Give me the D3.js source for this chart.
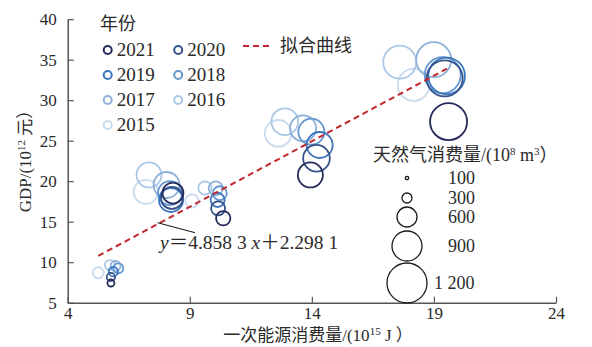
<!DOCTYPE html>
<html>
<head>
<meta charset="utf-8">
<script src="https://cdn.jsdelivr.net/npm/d3@7/dist/d3.min.js"></script>
<style>
  html, body { margin: 0; padding: 0; background: #fff; }
  svg { display: block; }
  text { font-family: "Liberation Serif", "Noto Sans CJK SC", serif; fill: #2a2a2a; }
</style>
</head>
<body>
<svg id="chart" width="592" height="347"></svg>
<script>
// Years, drawn from lightest (2015) to darkest (2021)
const years = ['2015', '2016', '2017', '2018', '2019', '2020', '2021'];
const yearColors = ['#c8dbef', '#abc7e6', '#8eb1da', '#6497d0', '#3d76bd', '#35538b', '#272b5b'];

// One row per year, one column per region (five regions)
const energy = [
  [5.25, 7.20, 9.09, 12.62, 18.17],
  [5.73, 7.33, 9.62, 12.89, 17.60],
  [5.96, 8.05, 10.06, 13.64, 18.99],
  [6.07, 8.19, 10.23, 13.98, 19.36],
  [5.87, 8.23, 10.14, 14.32, 19.52],
  [5.77, 8.27, 10.16, 14.19, 19.44],
  [5.77, 8.31, 10.37, 13.94, 19.60]
];
const gdp = [
  [8.70, 18.67, 17.56, 25.91, 31.90],
  [9.65, 20.77, 19.16, 27.35, 34.70],
  [9.53, 19.53, 19.12, 26.53, 35.00],
  [9.25, 18.54, 18.51, 26.11, 33.10],
  [8.83, 17.68, 17.68, 24.47, 33.00],
  [8.17, 17.93, 16.65, 22.83, 32.70],
  [7.43, 18.54, 15.42, 20.77, 27.35]
];
const gas = [
  [330, 720, 400, 800, 960],
  [300, 750, 400, 800, 990],
  [300, 780, 420, 780, 1050],
  [300, 720, 420, 780, 1080],
  [280, 720, 420, 780, 1100],
  [250, 660, 420, 800, 1080],
  [210, 630, 430, 750, 1110]
];

// Fitted line end points
const fitX = [5.25, 19.64];
const fitY = [10.77, 34.06];
const fitLabel = ['y', '＝4.858 3 ', 'x', '＋2.298 1'];

// Axis ticks
const xTicks = [4, 9, 14, 19, 24];
const yTicks = [5, 10, 15, 20, 25, 30, 35, 40];

// Size legend values and labels
const sizeValues = [100, 300, 600, 900, 1200];
const sizeLabels = ['100', '300', '600', '900', '1 200'];

// Legend layout order
const legendYears = ['2021', '2020', '2019', '2018', '2017', '2016', '2015'];

const svg = d3.select('#chart');
const x = d3.scaleLinear().domain([4, 24]).range([67.7, 556]);
const y = d3.scaleLinear().domain([5, 40]).range([302.7, 19.2]);
const r = d3.scaleLinear().domain([0, 1200]).range([0, 20]);
const color = d3.scaleOrdinal().domain(years).range(yearColors);

// Axes
const axisColor = '#555';
const gx = svg.append('g').attr('transform', `translate(0,${y(5)})`)
  .call(d3.axisBottom(x).tickValues(xTicks).tickSizeInner(-6).tickSizeOuter(0).tickPadding(4));
const gy = svg.append('g').attr('transform', `translate(${x(4)},0)`)
  .call(d3.axisLeft(y).tickValues(yTicks).tickSizeInner(-6).tickSizeOuter(0).tickPadding(11));
[gx, gy].forEach(g => {
  g.select('.domain').attr('stroke', axisColor).attr('stroke-width', 1.5);
  g.selectAll('.tick line').attr('stroke', axisColor).attr('stroke-width', 1.2);
  g.selectAll('.tick text').attr('font-size', 17).attr('fill', '#2a2a2a')
    .attr('font-family', '"Liberation Serif", serif');
});

// Axis titles
const xt = svg.append('text').attr('x', 318).attr('y', 341).attr('text-anchor', 'middle').attr('font-size', 17);
xt.append('tspan').text('一次能源消费量/(10');
xt.append('tspan').attr('font-size', 11).attr('dy', -6).text('15');
xt.append('tspan').attr('dy', 6).text(' J ）');

const yt = svg.append('text').attr('transform', 'translate(31,157) rotate(-90)')
  .attr('text-anchor', 'middle').attr('font-size', 17);
yt.append('tspan').text('GDP/(10');
yt.append('tspan').attr('font-size', 11).attr('dy', -6).text('12');
yt.append('tspan').attr('dy', 6).text(' 元）');

// Bubbles
const points = [];
years.forEach((yr, i) => {
  energy[i].forEach((e, j) => {
    points.push({ year: yr, e: e, g: gdp[i][j], s: gas[i][j] });
  });
});
svg.append('g').selectAll('circle').data(points).join('circle')
  .attr('cx', d => x(d.e))
  .attr('cy', d => y(d.g))
  .attr('r', d => r(d.s))
  .attr('fill', 'none')
  .attr('stroke', d => color(d.year))
  .attr('stroke-width', 1.8);

// Fitted line
svg.append('line')
  .attr('x1', x(fitX[0])).attr('y1', y(fitY[0]))
  .attr('x2', x(fitX[1])).attr('y2', y(fitY[1]))
  .attr('stroke', '#c1272d').attr('stroke-width', 2).attr('stroke-dasharray', '6,4');

// Equation with leader line
svg.append('line').attr('x1', 157.5).attr('y1', 222.7).attr('x2', 195).attr('y2', 232.7)
  .attr('stroke', '#111').attr('stroke-width', 1);
const eq = svg.append('text').attr('x', 160).attr('y', 249).attr('font-size', 19.5);
fitLabel.forEach((t, i) => {
  eq.append('tspan').attr('font-style', i % 2 === 0 ? 'italic' : 'normal').text(t);
});

// Year legend
svg.append('text').attr('x', 100).attr('y', 30).attr('font-size', 18).text('年份');
const leg = svg.append('g').selectAll('g').data(legendYears).join('g')
  .attr('transform', (d, i) => `translate(${107.7 + (i % 2) * 70.5},${50 + Math.floor(i / 2) * 25})`);
leg.append('circle').attr('r', 4).attr('fill', 'none')
  .attr('stroke', d => color(d)).attr('stroke-width', 2);
leg.append('text').attr('x', 9).attr('dy', '0.34em').attr('font-size', 19).text(d => d);

// Fitted line legend
svg.append('line').attr('x1', 243).attr('x2', 271).attr('y1', 46).attr('y2', 46)
  .attr('stroke', '#c1272d').attr('stroke-width', 2).attr('stroke-dasharray', '6,4');
svg.append('text').attr('x', 280).attr('y', 46).attr('dy', '0.34em').attr('font-size', 18).text('拟合曲线');

// Size legend
const st = svg.append('text').attr('x', 373).attr('y', 161).attr('font-size', 18);
st.append('tspan').text('天然气消费量/(10');
st.append('tspan').attr('font-size', 11).attr('dy', -6).text('8');
st.append('tspan').attr('dy', 6).text(' m');
st.append('tspan').attr('font-size', 11).attr('dy', -6).text('3');
st.append('tspan').attr('dy', 6).text('）');

const sizeY = [178, 198, 217, 246, 283];
const sl = svg.append('g').selectAll('g').data(sizeValues).join('g')
  .attr('transform', (d, i) => `translate(407,${sizeY[i]})`);
sl.append('circle').attr('r', d => r(d)).attr('fill', 'none')
  .attr('stroke', '#1a1a1a').attr('stroke-width', 1.3);
sl.append('text').attr('x', (d, i) => i === 4 ? 27 : 41).attr('dy', '0.34em')
  .attr('font-size', 18).text((d, i) => sizeLabels[i]);
</script>
</body>
</html>
